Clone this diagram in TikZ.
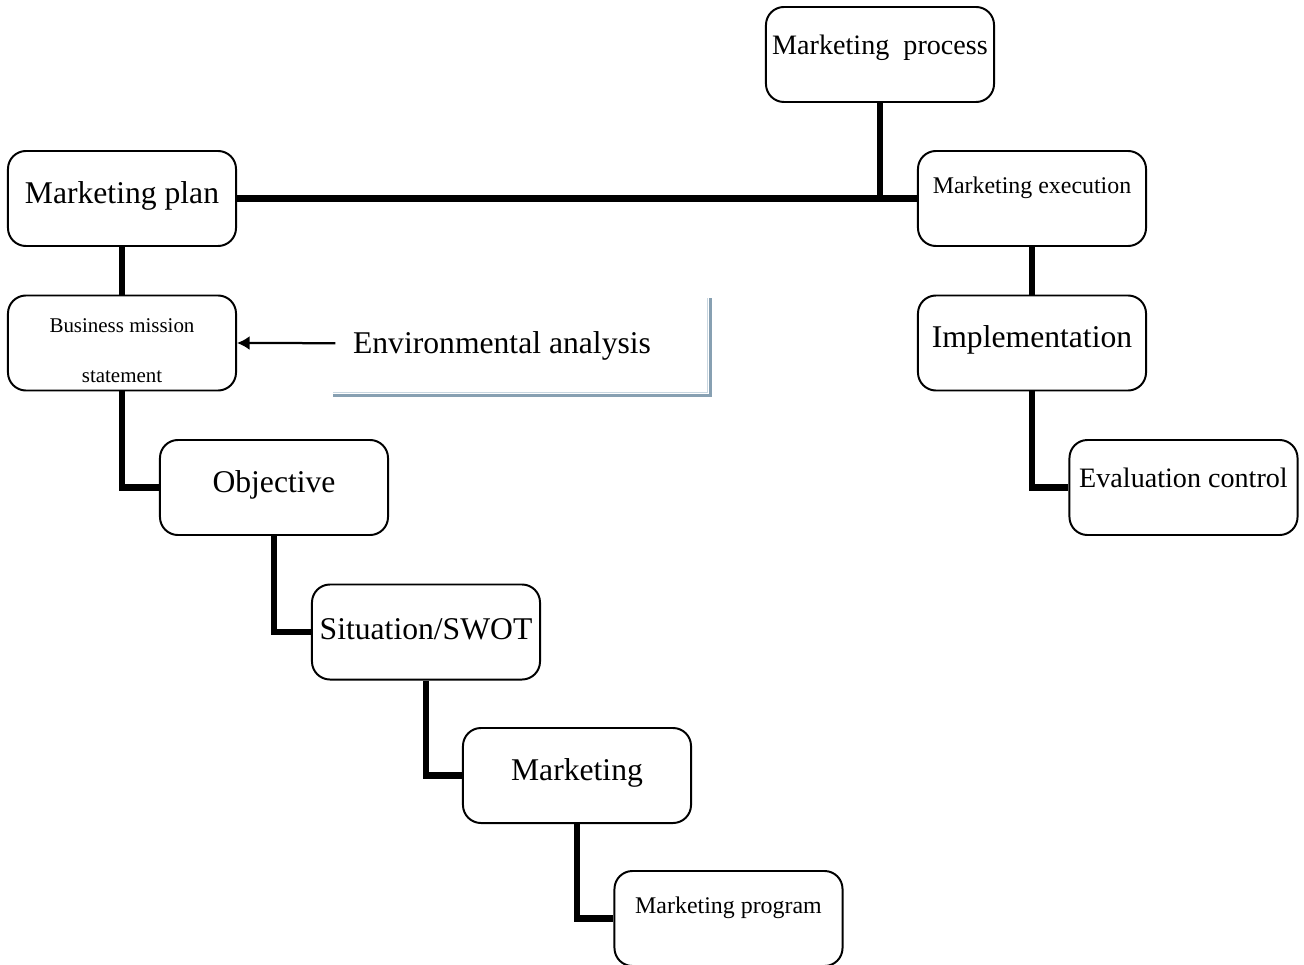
\documentclass[tikz,border=0pt]{standalone}
\usepackage{fontspec}
\setmainfont{Liberation Serif}
\usepackage{tikz}
\usetikzlibrary{arrows,arrows.meta,positioning}

\definecolor{frameblue}{RGB}{135,160,178}
\definecolor{framelight}{RGB}{200,214,224}

\tikzset{
  box/.style={draw, line width=1.4pt, rounded corners=0.45cm, minimum width=5.7cm, minimum height=2.375cm},
  conn/.style={line width=4.3pt},
  big/.style={font=\fontsize{22.5}{27}\selectfont},
  mid/.style={font=\fontsize{20}{24}\selectfont},
  small/.style={font=\fontsize{17}{20}\selectfont},
  tiny/.style={font=\fontsize{14.9}{35}\selectfont, align=center}
}

\begin{document}
\begin{tikzpicture}[x=0.025cm, y=-0.025cm]
	  \useasboundingbox (0,0) rectangle (1304,965);
	  % left column
	  \node (plan) [box, label={[big,yshift=2pt]center:Marketing plan}] at (122,198.5) {};
	  \node (mission) [box, label={[tiny,yshift=-5.5pt]center:Business mission\\statement}] at (122,343) {};
	  \node (obj) [box, label={[big,yshift=2pt]center:Objective}] at (274,487.5) {};
	  \node (swot) [box, label={[big,yshift=2.3pt]center:Situation/SWOT}] at (426,632) {};
	  \node (mkt) [box, label={[big,yshift=2pt]center:Marketing}] at (577,775.5) {};
	  \node (prog) [box, label={[small,yshift=7.6pt]center:Marketing program}] at (728.5,918.5) {};
	  % right column
	  \node (process) [box, label={[mid,yshift=4.8pt]center:Marketing\ \ process}] at (880,54.5) {};
	  \node (exec) [box, label={[small,yshift=7.6pt]center:Marketing execution}] at (1032,198.5) {};
	  \node (impl) [box, label={[big,yshift=2.3pt]center:Implementation}] at (1032,343) {};
	  \node (eval) [box, label={[mid,yshift=7pt]center:Evaluation control}] at (1183.5,487.5) {};
	  % environment
	  \node (env) [big] at (502,346) {Environmental analysis};
	  \draw[frameblue, line width=2.2pt] (333,395.5) -- (710.5,395.5) -- (710.5,298);
	  \draw[framelight, line width=0.8pt] (333,392.5) -- (707.5,392.5) -- (707.5,298);
	  \draw[-{Latex[length=9pt,width=10pt]}, line width=1.6pt] ([xshift=-9pt,yshift=2pt]env.west) -- (mission.east);
	  % connectors
	  \draw[conn] (plan) -- (exec);
	  \draw[conn] (process) -- (process |- plan);
	  \draw[conn] (plan) -- (mission);
	  \draw[conn] (mission.south) |- (obj.west);
	  \draw[conn] (obj.south) |- (swot.west);
	  \draw[conn] (swot.south) |- (mkt.west);
	  \draw[conn] (mkt.south) |- (prog.west);
	  \draw[conn] (exec) -- (impl);
	  \draw[conn] (impl.south) |- (eval.west);
	\end{tikzpicture}
\end{document}
